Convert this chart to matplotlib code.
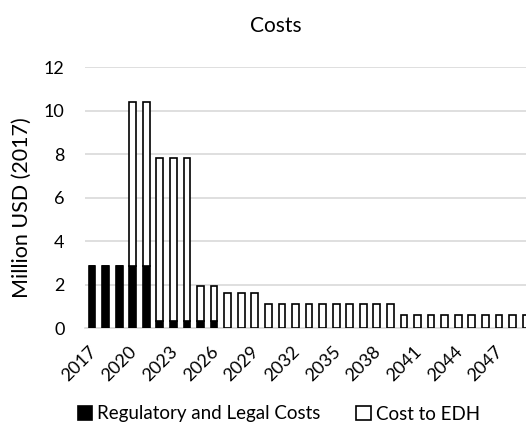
import matplotlib
matplotlib.use("Agg")
import matplotlib.pyplot as plt
import matplotlib.transforms as mtransforms
import numpy as np

plt.rcParams['font.family'] = ['Lato', 'DejaVu Sans']

# years 2017..2049 (last one cut off by the picture edge)
years = list(range(2017, 2050))
reg_legal = [2.85]*5 + [0.35]*5 + [0]*23
totals = [2.85, 2.85, 2.85, 10.4, 10.4, 7.85, 7.85, 7.85, 1.95, 1.95,
          1.6, 1.6, 1.6] + [1.1]*10 + [0.6]*10
cost_edh = [t - r for t, r in zip(totals, reg_legal)]
tick_years = list(range(2017, 2048, 3))

fig = plt.figure(figsize=(5.26, 4.41), dpi=100)
ax = fig.add_axes([0.162, 0.256, 0.851, 0.591])

x = np.arange(len(years))
ax.bar(x, reg_legal, 0.5, color='black', edgecolor='black', linewidth=1.2,
       label='Regulatory and Legal Costs', zorder=3)
ax.bar(x, cost_edh, 0.5, bottom=reg_legal, color='white', edgecolor='black',
       linewidth=1.2, label='Cost to EDH', zorder=3)

ax.set_xlim(-0.5, len(years) - 0.5)
ax.set_ylim(0, 12)
ax.set_yticks(range(0, 13, 2))
ax.set_xticks([years.index(y) for y in tick_years])
ax.set_xticklabels([str(y) for y in tick_years], rotation=45, ha='right',
                   rotation_mode='anchor', fontsize=13)
ax.tick_params(axis='y', labelsize=13, length=0, pad=15)
ax.tick_params(axis='x', length=0, pad=11)
# nudge x labels a little to the left
shift = mtransforms.ScaledTranslation(-4/100, 0, fig.dpi_scale_trans)
for lab in ax.get_xticklabels():
    lab.set_transform(lab.get_transform() + shift)
ax.grid(axis='y', color='#d9d9d9', linewidth=1.2, zorder=0)
for s in ['top', 'right', 'left']:
    ax.spines[s].set_visible(False)
ax.spines['bottom'].set_color('#d9d9d9')
ax.spines['bottom'].set_linewidth(1.2)

fig.text(22/526, 1 - 208/441, 'Million USD (2017)', rotation=90,
         ha='center', va='center', fontsize=15.5)
fig.text(276/526, 1 - 26/441, 'Costs', ha='center', va='center', fontsize=15)

fig.legend(loc='center', bbox_to_anchor=(279/526, 1 - 414/441), ncol=2,
           frameon=False, fontsize=13.5, handlelength=0.75, handleheight=0.75,
           handletextpad=0.3, columnspacing=1.9)

fig.savefig('out.png', dpi=100)
